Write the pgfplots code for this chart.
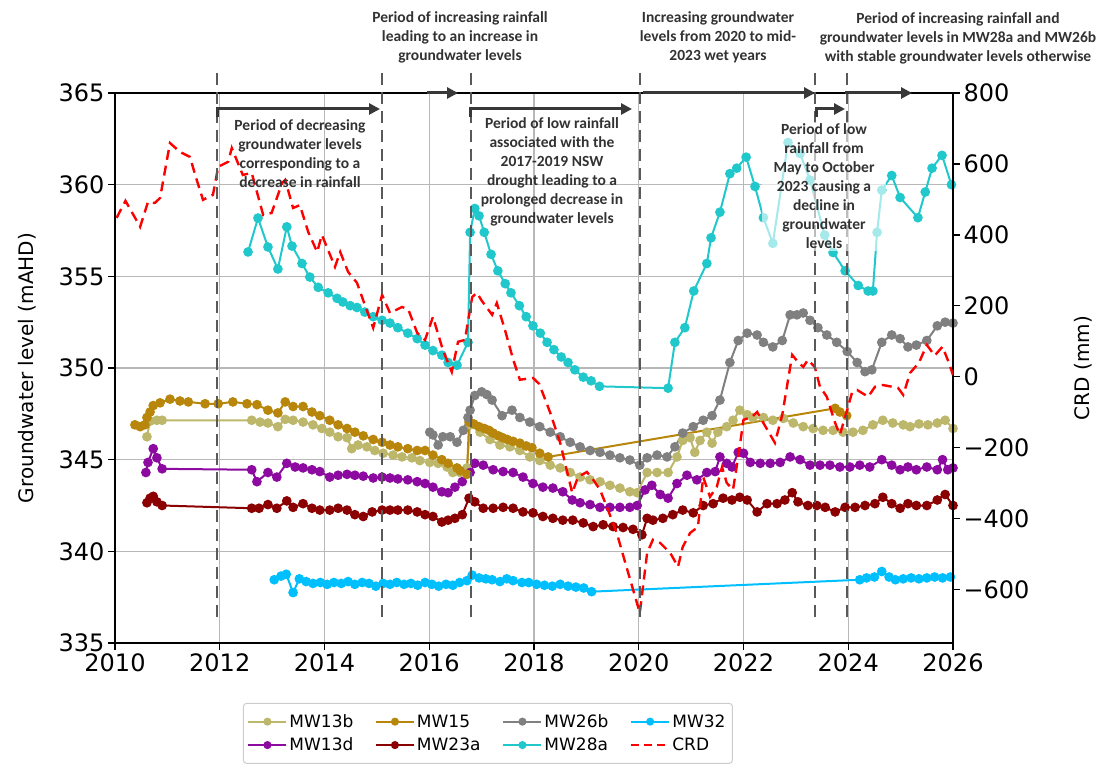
\documentclass[border=0pt]{standalone}
\usepackage{pgfplots}
\pgfplotsset{compat=1.18}
\usepackage{fontspec}
\setmainfont{DejaVu Sans}
\newfontfamily\calib{Carlito}
\usetikzlibrary{arrows.meta}
\definecolor{c13b}{RGB}{189,183,107}
\definecolor{c13d}{RGB}{140,10,160}
\definecolor{c15}{RGB}{184,134,11}
\definecolor{c23a}{RGB}{139,0,0}
\definecolor{c26b}{RGB}{128,128,128}
\definecolor{c28a}{RGB}{32,200,204}
\definecolor{c32}{RGB}{0,191,255}
\definecolor{anncol}{RGB}{50,50,50}
\pgfplotsset{
  gw/.style={line width=2pt, mark=*, mark size=3.8pt, mark options={solid}},
}
\tikzset{
  vdash/.style={draw=black!65, line width=2.4pt, dash pattern=on 12pt off 7pt},
  arr/.style={draw=black!78, line width=3pt, -{Triangle[length=11pt,width=11pt]}},
  ann/.style={font=\calib\bfseries\fontsize{15.5}{19}\selectfont, text=anncol, align=center, inner sep=2pt},
}
\begin{document}
\begin{tikzpicture}
\path[use as bounding box] (-115pt,-126pt) rectangle (993pt,643pt);
\begin{axis}[
  scale only axis, width=838pt, height=550pt,
  xmin=2010, xmax=2026, ymin=335, ymax=365,
  xtick={2010,2012,...,2026}, ytick={335,340,...,365},
  xtick pos=bottom, ytick pos=left, tick align=outside,
  major tick length=7pt,
  tick style={black, line width=1.2pt},
  grid=major, grid style={black!28, line width=1.3pt},
  axis line style={black, line width=1.3pt},
  tick label style={font=\fontsize{24}{28}\selectfont},
  /pgf/number format/1000 sep={},
  /pgf/number format/assume math mode=true,
  ylabel={Groundwater level (mAHD)},
  ylabel style={font=\fontsize{20}{24}\selectfont, at={(axis description cs:-0.105,0.5)}, anchor=center},
]
% MW13b
\addplot[color=c13b, gw] coordinates {
(2010.61,346.25) (2010.67,347.1) (2010.80,347.15) (2010.90,347.15) (2012.61,347.15) (2012.77,347.05)
(2012.92,347.0) (2013.11,346.8) (2013.25,347.2) (2013.40,347.15) (2013.59,347.05) (2013.78,346.9)
(2013.95,346.7) (2014.10,346.5) (2014.26,346.25) (2014.43,346.2) (2014.52,345.6) (2014.64,345.8)
(2014.81,345.7) (2014.96,345.5) (2015.12,345.35) (2015.31,345.25) (2015.48,345.15) (2015.67,345.1)
(2015.82,344.95) (2016.01,344.85) (2016.17,344.8) (2016.34,344.6) (2016.45,344.3) (2016.59,344.3)
(2016.72,344.55) (2016.78,346.9) (2016.97,346.5) (2017.16,346.1) (2017.35,345.8) (2017.54,345.7)
(2017.73,345.5) (2017.92,345.15) (2018.11,344.95) (2018.31,344.7) (2018.50,344.55) (2018.69,344.3)
(2018.88,344.05) (2019.07,343.9) (2019.26,343.8) (2019.45,343.6) (2019.64,343.45) (2019.83,343.25)
(2019.97,343.2) (2020.16,344.3) (2020.35,344.3) (2020.56,344.3) (2020.73,345.15) (2020.84,346.05)
(2020.98,346.2) (2021.07,345.4) (2021.17,346.05) (2021.30,346.5) (2021.40,345.9) (2021.51,346.5)
(2021.68,346.8) (2021.80,347.15) (2021.93,347.7) (2022.07,347.45) (2022.18,347.3) (2022.38,347.3)
(2022.56,347.15) (2022.76,347.25) (2022.95,347.0) (2023.14,346.8) (2023.33,346.7) (2023.52,346.6)
(2023.71,346.6) (2023.90,346.5) (2024.09,346.5) (2024.28,346.6) (2024.47,346.9) (2024.66,347.15)
(2024.85,347.0) (2025.05,346.9) (2025.18,346.8) (2025.35,346.95) (2025.52,346.9) (2025.70,347.0)
(2025.85,347.15) (2026.0,346.7)
};
% MW13d
\addplot[color=c13d, gw] coordinates {
(2010.59,344.3) (2010.63,344.85) (2010.73,345.6) (2010.80,345.1) (2010.90,344.5) (2012.61,344.45)
(2012.71,343.8) (2012.92,344.3) (2013.09,344.05) (2013.28,344.8) (2013.44,344.6) (2013.59,344.55)
(2013.76,344.45) (2013.91,344.35) (2014.10,344.05) (2014.26,344.15) (2014.43,344.2) (2014.58,344.15)
(2014.74,344.1) (2014.93,344.0) (2015.10,344.05) (2015.25,344.0) (2015.40,343.95) (2015.59,343.9)
(2015.77,343.8) (2015.92,343.7) (2016.07,343.5) (2016.24,343.25) (2016.36,343.2) (2016.49,343.5)
(2016.63,343.8) (2016.78,344.3) (2016.87,344.8) (2017.03,344.7) (2017.22,344.45) (2017.41,344.35)
(2017.60,344.3) (2017.79,344.05) (2017.98,343.7) (2018.17,343.5) (2018.36,343.45) (2018.55,343.25)
(2018.73,342.8) (2018.88,342.65) (2019.07,342.55) (2019.26,342.4) (2019.45,342.4) (2019.64,342.4)
(2019.83,342.4) (2019.97,342.5) (2020.12,343.35) (2020.25,343.6) (2020.41,343.1) (2020.56,342.9)
(2020.73,343.7) (2020.92,344.15) (2021.11,343.9) (2021.30,344.3) (2021.46,344.35) (2021.55,345.15)
(2021.68,344.8) (2021.78,344.6) (2021.90,345.4) (2022.0,345.35) (2022.13,344.85) (2022.32,344.8)
(2022.51,344.8) (2022.70,344.85) (2022.89,345.15) (2023.08,345.0) (2023.27,344.7) (2023.46,344.7)
(2023.65,344.7) (2023.84,344.6) (2024.03,344.6) (2024.22,344.7) (2024.41,344.6) (2024.64,345.0)
(2024.83,344.7) (2024.99,344.45) (2025.14,344.6) (2025.30,344.45) (2025.50,344.6) (2025.70,344.45)
(2025.80,345.0) (2025.90,344.45) (2026.0,344.55)
};
% MW15
\addplot[color=c15, gw] coordinates {
(2010.38,346.9) (2010.48,346.8) (2010.57,346.9) (2010.61,347.3) (2010.67,347.6) (2010.73,347.95)
(2010.86,348.1) (2011.05,348.3) (2011.24,348.2) (2011.40,348.15) (2011.72,348.05) (2011.97,348.05)
(2012.25,348.15) (2012.52,348.05) (2012.71,348.0) (2012.92,347.7) (2013.11,347.55) (2013.25,348.15)
(2013.40,347.9) (2013.59,347.9) (2013.76,347.6) (2013.91,347.4) (2014.10,347.15) (2014.26,346.9)
(2014.43,346.7) (2014.58,346.5) (2014.74,346.3) (2014.93,346.1) (2015.10,345.95) (2015.25,345.8)
(2015.40,345.7) (2015.59,345.6) (2015.77,345.5) (2015.92,345.5) (2016.07,345.25) (2016.24,345.0)
(2016.36,344.8) (2016.53,344.55) (2016.59,344.4) (2016.72,344.2) (2016.76,347.05) (2016.85,346.95)
(2016.95,346.8) (2017.05,346.7) (2017.14,346.6) (2017.22,346.45) (2017.32,346.3) (2017.40,346.2)
(2017.49,346.1) (2017.60,346.0) (2017.73,345.9) (2017.85,345.75) (2017.96,345.65) (2018.11,345.35)
(2018.27,345.15) (2023.75,347.8) (2023.84,347.6) (2023.97,347.4)
};
% MW23a
\addplot[color=c23a, gw] coordinates {
(2010.61,342.65) (2010.67,342.9) (2010.73,343.0) (2010.80,342.7) (2010.90,342.5) (2012.61,342.35)
(2012.75,342.35) (2012.92,342.55) (2013.09,342.35) (2013.28,342.75) (2013.40,342.4) (2013.59,342.6)
(2013.76,342.35) (2013.91,342.25) (2014.10,342.25) (2014.26,342.35) (2014.43,342.25) (2014.58,342.0)
(2014.74,341.9) (2014.91,342.15) (2015.10,342.25) (2015.25,342.25) (2015.40,342.25) (2015.59,342.25)
(2015.77,342.15) (2015.92,342.0) (2016.07,341.9) (2016.24,341.6) (2016.36,341.7) (2016.49,341.8)
(2016.63,342.0) (2016.76,342.9) (2016.87,342.7) (2017.03,342.35) (2017.22,342.35) (2017.41,342.4)
(2017.60,342.35) (2017.79,342.15) (2017.98,342.1) (2018.17,341.9) (2018.36,341.8) (2018.55,341.7)
(2018.74,341.7) (2018.94,341.55) (2019.13,341.35) (2019.32,341.45) (2019.51,341.35) (2019.70,341.3)
(2019.89,341.2) (2020.06,340.9) (2020.16,341.8) (2020.27,341.7) (2020.46,341.8) (2020.65,342.0)
(2020.84,342.25) (2021.04,342.1) (2021.23,342.5) (2021.42,342.6) (2021.61,342.9) (2021.78,342.8)
(2021.93,342.95) (2022.07,342.8) (2022.26,342.15) (2022.45,342.6) (2022.64,342.6) (2022.79,342.8)
(2022.93,343.2) (2023.04,342.7) (2023.23,342.5) (2023.40,342.5) (2023.56,342.4) (2023.75,342.15)
(2023.94,342.4) (2024.13,342.4) (2024.32,342.5) (2024.51,342.6) (2024.66,342.95) (2024.83,342.6)
(2024.99,342.35) (2025.14,342.6) (2025.30,342.5) (2025.50,342.5) (2025.70,342.8) (2025.85,343.1)
(2026.0,342.5)
};
% MW26b
\addplot[color=c26b, gw] coordinates {
(2016.01,346.5) (2016.07,346.35) (2016.17,345.8) (2016.26,346.25) (2016.40,346.25) (2016.53,345.95)
(2016.65,346.6) (2016.74,347.3) (2016.78,347.7) (2016.87,348.5) (2017.0,348.7) (2017.1,348.55)
(2017.2,348.25) (2017.39,347.4) (2017.58,347.7) (2017.73,347.3) (2017.92,347.05) (2018.11,346.8)
(2018.31,346.5) (2018.50,346.25) (2018.69,345.95) (2018.88,345.7) (2019.07,345.5) (2019.26,345.4)
(2019.45,345.25) (2019.64,345.1) (2019.83,344.98) (2020.02,344.7) (2020.16,345.1) (2020.35,345.25)
(2020.54,345.15) (2020.69,345.7) (2020.84,346.45) (2021.04,346.8) (2021.23,347.15) (2021.40,347.4)
(2021.55,348.25) (2021.74,350.3) (2021.90,351.5) (2022.07,351.9) (2022.26,351.8) (2022.38,351.4)
(2022.56,351.15) (2022.74,351.5) (2022.89,352.9) (2023.02,352.9) (2023.14,353.0) (2023.27,352.6)
(2023.42,352.2) (2023.59,351.8) (2023.78,351.4) (2023.98,350.9) (2024.17,350.3) (2024.32,349.8)
(2024.45,349.9) (2024.64,351.4) (2024.83,351.8) (2024.99,351.6) (2025.14,351.15) (2025.30,351.25)
(2025.50,351.5) (2025.70,352.3) (2025.85,352.5) (2026.0,352.45)
};
% MW28a
\addplot[color=c28a, gw] coordinates {
(2012.54,356.33) (2012.73,358.18) (2012.92,356.6) (2013.11,355.4) (2013.28,357.7) (2013.38,356.65)
(2013.57,355.7) (2013.72,354.96) (2013.88,354.4) (2014.07,354.1) (2014.24,353.8) (2014.35,353.6)
(2014.49,353.4) (2014.62,353.3) (2014.77,353.05) (2014.93,352.8) (2015.10,352.6) (2015.25,352.45)
(2015.40,352.2) (2015.59,351.9) (2015.77,351.6) (2015.92,351.25) (2016.07,350.95) (2016.24,350.7)
(2016.36,350.3) (2016.53,350.15) (2016.74,351.4) (2016.78,357.4) (2016.87,358.7) (2016.95,358.3)
(2017.05,357.4) (2017.18,356.2) (2017.31,355.3) (2017.45,354.6) (2017.56,354.1) (2017.72,353.4)
(2017.85,352.8) (2017.98,352.3) (2018.12,351.9) (2018.25,351.4) (2018.38,351.0) (2018.52,350.6)
(2018.65,350.3) (2018.78,349.9) (2018.94,349.5) (2019.09,349.3) (2019.25,349.0) (2020.56,348.9)
(2020.69,351.4) (2020.88,352.2) (2021.05,354.2) (2021.30,355.7) (2021.38,357.1) (2021.55,358.5)
(2021.74,360.6) (2021.87,360.9) (2022.05,361.5) (2022.22,359.9) (2022.38,358.2) (2022.56,356.8)
(2022.85,362.3) (2023.08,361.7) (2023.27,360.25) (2023.55,357.25) (2023.71,356.3) (2023.94,355.3)
(2024.19,354.5) (2024.38,354.2) (2024.47,354.2) (2024.55,357.4) (2024.64,359.7) (2024.83,360.5)
(2024.99,359.3) (2025.33,358.2) (2025.47,359.6) (2025.60,360.9) (2025.79,361.6) (2025.97,360.0)
};
% MW32
\addplot[color=c32, gw] coordinates {
(2013.04,338.45) (2013.17,338.65) (2013.27,338.75) (2013.40,337.75) (2013.52,338.5) (2013.65,338.35)
(2013.78,338.25) (2013.92,338.3) (2014.05,338.2) (2014.18,338.3) (2014.32,338.25) (2014.45,338.35)
(2014.58,338.2) (2014.72,338.3) (2014.85,338.25) (2014.98,338.1) (2015.12,338.25) (2015.25,338.2)
(2015.38,338.3) (2015.52,338.2) (2015.65,338.25) (2015.78,338.15) (2015.92,338.3) (2016.05,338.2)
(2016.18,338.1) (2016.32,338.2) (2016.45,338.15) (2016.58,338.3) (2016.72,338.4) (2016.82,338.7)
(2016.95,338.55) (2017.08,338.5) (2017.2,338.45) (2017.35,338.35) (2017.48,338.5) (2017.6,338.4)
(2017.77,338.3) (2017.9,338.3) (2018.05,338.2) (2018.2,338.15) (2018.35,338.1) (2018.5,338.2)
(2018.65,338.1) (2018.8,338.05) (2018.95,338.0) (2019.1,337.8) (2024.22,338.45) (2024.35,338.55)
(2024.5,338.6) (2024.64,338.9) (2024.78,338.6) (2024.9,338.45) (2025.05,338.5) (2025.2,338.55)
(2025.35,338.5) (2025.5,338.55) (2025.65,338.6) (2025.8,338.55) (2025.95,338.6)
};
\end{axis}
\begin{axis}[
  scale only axis, width=838pt, height=550pt,
  xmin=2010, xmax=2026, ymin=-750, ymax=800,
  axis y line*=right, axis x line=none,
  ytick={-600,-400,...,800},
  yticklabels={−600,−400,−200,0,200,400,600,800},
  tick align=outside, major tick length=7pt,
  tick style={black, line width=1.2pt},
  axis line style={black, line width=1.3pt},
  tick label style={font=\fontsize{24}{28}\selectfont},
  ylabel={CRD (mm)},
  ylabel style={font=\fontsize{20}{24}\selectfont, at={(axis description cs:1.155,0.5)}, anchor=center},
  legend columns=4,
  legend cell align=left,
  legend style={at={(axis description cs:0.1527,-0.109)}, anchor=north west, draw=black!20, line width=1pt,
    rounded corners=3pt, font=\fontsize{17}{20}\selectfont, inner xsep=4pt, inner ysep=9pt, row sep=5pt,
    /tikz/every even column/.append style={column sep=19.5pt}},
  legend image code/.code={\draw[mark repeat=2,mark phase=2] plot coordinates {(0pt,0pt) (19pt,0pt) (38pt,0pt)};},
]
\addlegendimage{color=c13b, line width=2pt, mark=*, mark size=3pt}
\addlegendentry{\makebox[64pt][l]{MW13b}}
\addlegendimage{color=c15, line width=2pt, mark=*, mark size=3pt}
\addlegendentry{\makebox[64pt][l]{MW15}}
\addlegendimage{color=c26b, line width=2pt, mark=*, mark size=3pt}
\addlegendentry{\makebox[64pt][l]{MW26b}}
\addlegendimage{color=c32, line width=2pt, mark=*, mark size=3pt}
\addlegendentry{\makebox[54pt][l]{MW32}}
\addlegendimage{color=c13d, line width=2pt, mark=*, mark size=3pt}
\addlegendentry{\makebox[64pt][l]{MW13d}}
\addlegendimage{color=c23a, line width=2pt, mark=*, mark size=3pt}
\addlegendentry{\makebox[64pt][l]{MW23a}}
\addlegendimage{color=c28a, line width=2pt, mark=*, mark size=3pt}
\addlegendentry{\makebox[64pt][l]{MW28a}}
\addlegendimage{color=red, line width=2.4pt, dash pattern=on 8pt off 5pt}
\addlegendentry{\makebox[54pt][l]{CRD}}
% CRD
\addplot[color=red, line width=2.4pt, dash pattern=on 10pt off 6pt, forget plot] coordinates {
(2010.03,448) (2010.2,496) (2010.48,423) (2010.63,493) (2010.76,490) (2010.86,504) (2011.05,659)
(2011.24,634) (2011.43,620) (2011.55,560) (2011.68,499) (2011.87,513) (2011.97,592) (2012.16,606)
(2012.23,645) (2012.44,569) (2012.61,575) (2012.83,456) (2012.99,462) (2013.19,546) (2013.25,555)
(2013.40,476) (2013.53,484) (2013.69,408) (2013.86,352) (2013.95,400) (2014.2,310) (2014.30,352)
(2014.45,296) (2014.62,265) (2014.77,203) (2014.93,138) (2015.10,231) (2015.25,180) (2015.48,197)
(2015.6,190) (2015.77,124) (2015.92,104) (2016.07,169) (2016.26,76) (2016.43,14) (2016.55,99)
(2016.68,104) (2016.82,225) (2016.91,237) (2017.0,215) (2017.2,175) (2017.29,208) (2017.45,130)
(2017.6,50) (2017.73,-8) (2017.98,-3) (2018.1,-20) (2018.31,-101) (2018.5,-186) (2018.73,-327)
(2018.84,-282) (2019.01,-268) (2019.13,-290) (2019.26,-318) (2019.39,-366) (2019.58,-440)
(2019.78,-543) (2020.02,-665) (2020.16,-496) (2020.27,-459) (2020.41,-468) (2020.60,-496)
(2020.75,-535) (2020.84,-479) (2020.98,-440) (2021.13,-423) (2021.23,-282) (2021.36,-338)
(2021.49,-310) (2021.59,-254) (2021.68,-299) (2021.80,-318) (2021.90,-225) (2022.0,-121)
(2022.16,-113) (2022.26,-99) (2022.38,-130) (2022.60,-186) (2022.74,-107) (2022.93,62) (2023.04,42)
(2023.14,28) (2023.23,48) (2023.36,28) (2023.46,-28) (2023.59,-56) (2023.75,-130) (2023.84,-163)
(2023.98,-93) (2024.07,-45) (2024.17,-37) (2024.38,-56) (2024.51,-28) (2024.66,-23) (2024.95,-31)
(2025.05,-51) (2025.18,11) (2025.35,40) (2025.5,90) (2025.65,60) (2025.8,85) (2025.92,40) (2026.0,5)
};
\end{axis}
% vertical dashed period lines
\foreach \xx in {102,267,356,525,700,732} {
  \draw[vdash] (\xx pt,570pt) -- (\xx pt,26pt);
}
% arrows on top spine
\draw[arr] (312pt,550pt) -- (343pt,550pt);
\draw[arr] (528pt,550pt) -- (700pt,550pt);
\draw[arr] (730pt,550pt) -- (797pt,550pt);
% lower arrows
\draw[arr] (102pt,526pt) -- (102pt,534pt) -- (265pt,534pt);
\draw[arr] (355pt,526pt) -- (355pt,534pt) -- (517pt,534pt);
\draw[arr] (701pt,526pt) -- (701pt,534pt) -- (730pt,534pt);
% annotations
\node[ann] at (345pt,606pt) {Period of increasing rainfall\\leading to an increase in\\groundwater levels};
\node[ann] at (603pt,606pt) {Increasing groundwater\\levels from 2020 to mid-\\2023 wet years};
\node[ann] at (843pt,605pt) {Period of increasing rainfall and\\groundwater levels in MW28a and MW26b\\with stable groundwater levels otherwise};
\node[ann] at (185pt,489.5pt) {Period of decreasing\\groundwater levels\\corresponding to a\\decrease in rainfall};
\node[ann] at (437pt,471pt) {Period of low rainfall\\associated with the\\2017-2019 NSW\\drought leading to a\\prolonged decrease in\\groundwater levels};
\node[ann, fill=white, fill opacity=0.6, text opacity=1, inner xsep=12pt] at (709pt,456.5pt) {Period of low\\rainfall from\\May to October\\2023 causing a\\decline in\\groundwater\\levels};
\end{tikzpicture}
\end{document}
